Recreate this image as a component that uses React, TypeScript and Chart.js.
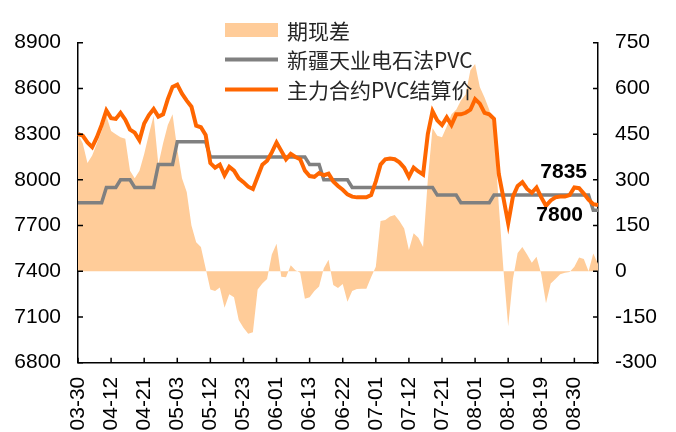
import React, { useEffect, useRef } from 'react';
import { Chart, registerables } from 'chart.js';

Chart.register(...registerables);

const DATES = [
  '03-30','03-31','04-01','04-06','04-07','04-08','04-11','04-12','04-13','04-14',
  '04-15','04-18','04-19','04-20','04-21','04-22','04-25','04-26','04-27','04-28',
  '04-29','05-03','05-04','05-05','05-06','05-09','05-10','05-11','05-12','05-13',
  '05-16','05-17','05-18','05-19','05-20','05-23','05-24','05-25','05-26','05-27',
  '05-30','05-31','06-01','06-02','06-06','06-07','06-08','06-09','06-10','06-13',
  '06-14','06-15','06-16','06-17','06-20','06-21','06-22','06-23','06-24','06-27',
  '06-28','06-29','06-30','07-01','07-04','07-05','07-06','07-07','07-08','07-11',
  '07-12','07-13','07-14','07-15','07-18','07-19','07-20','07-21','07-22','07-25',
  '07-26','07-27','07-28','07-29','08-01','08-02','08-03','08-04','08-05','08-08',
  '08-09','08-10','08-11','08-12','08-15','08-16','08-17','08-18','08-19','08-22',
  '08-23','08-24','08-25','08-26','08-29','08-30','08-31','09-01','09-02','09-05',
  '09-06',
];

// 期现差 (right axis)
const BASIS = [
  450, 420, 355, 380, 420, 460, 510, 460, 450, 440,
  435, 330, 305, 330, 385, 450, 510, 350, 420, 480,
  515, 400, 305, 260, 150, 95, 80, 10, -60, -65,
  -53, -120, -75, -85, -160, -185, -205, -200, -60, -40,
  -25, 55, 90, -18, -20, 20, 3, -5, -90, -85,
  -65, -50, 10, 38, -45, -55, -42, -100, -65, -58,
  -57, -57, -20, 15, 165, 168, 180, 185, 165, 140,
  70, 125, 110, 80, 300, 470, 445, 440, 475, 515,
  530, 560, 580, 660, 680, 605, 570, 530, 470, 220,
  5, -180, -25, 60, 80, 55, 28, 48, -10, -105,
  -40, -25, -10, -5, -2, 15, 45, 40, 0, 58,
  25,
];

// 新疆天业电石法PVC (left axis)
const SPOT = [
  7850, 7850, 7850, 7850, 7850, 7850, 7950, 7950, 7950, 8000,
  8000, 8000, 7950, 7950, 7950, 7950, 7950, 8100, 8100, 8100,
  8100, 8250, 8250, 8250, 8250, 8250, 8250, 8250, 8150, 8150,
  8150, 8150, 8150, 8150, 8150, 8150, 8150, 8150, 8150, 8150,
  8150, 8150, 8150, 8150, 8150, 8150, 8150, 8150, 8150, 8100,
  8100, 8100, 8000, 8000, 8000, 8000, 8000, 8000, 7950, 7950,
  7950, 7950, 7950, 7950, 7950, 7950, 7950, 7950, 7950, 7950,
  7950, 7950, 7950, 7950, 7950, 7950, 7900, 7900, 7900, 7900,
  7900, 7850, 7850, 7850, 7850, 7850, 7850, 7850, 7900, 7900,
  7900, 7900, 7900, 7900, 7900, 7900, 7900, 7900, 7900, 7900,
  7900, 7900, 7900, 7900, 7900, 7900, 7900, 7900, 7900, 7800,
  7800,
];

// 主力合约PVC结算价 (left axis)
const FUTURES = [
  8300, 8290, 8245, 8215, 8280, 8360, 8455, 8405, 8400, 8440,
  8395, 8330, 8310, 8260, 8370, 8425, 8465, 8415, 8430, 8530,
  8610, 8625, 8565, 8520, 8480, 8355, 8345, 8295, 8110, 8080,
  8100, 8030, 8085, 8060, 8010, 7985, 7955, 7940, 8020, 8100,
  8125, 8180, 8245, 8190, 8135, 8170, 8150, 8135, 8060, 8025,
  8020, 8045, 8030, 8040, 7990, 7960, 7935, 7905, 7890, 7885,
  7885, 7885, 7900, 7990, 8100, 8135, 8140, 8135, 8115, 8080,
  8020, 8080, 8055, 8035, 8300, 8450, 8390, 8360, 8410, 8360,
  8430, 8430, 8440, 8460, 8530, 8500, 8440, 8430, 8400, 8040,
  7880, 7715, 7890, 7960, 7985, 7940, 7915, 7950, 7885, 7830,
  7865, 7885, 7890, 7890, 7900, 7950, 7945, 7910, 7870, 7840,
  7835,
];

const SERIES_NAMES = ['期现差', '新疆天业电石法PVC', '主力合约PVC结算价'];

const LEFT_MIN = 6800;
const LEFT_MAX = 8900;
const LEFT_STEP = 300;
const RIGHT_MIN = -300;
const RIGHT_MAX = 750;
const RIGHT_STEP = 150;
const LABEL_EVERY = 7;

const BASIS_COLOR = '#FFCC99';
const SPOT_COLOR = '#808080';
const FUT_COLOR = '#FF6600';
const TICK_FONT = "'Liberation Sans', Arial, sans-serif";
const LEGEND_FONT = "'Noto Sans CJK SC', sans-serif";

const inwardTicks = {
  id: 'inwardTicks',
  afterDraw(chart: any) {
    const { ctx, chartArea } = chart;
    const xs = chart.scales.x;
    const yl = chart.scales.y;
    const yr = chart.scales.y1;
    ctx.save();
    ctx.strokeStyle = '#000';
    ctx.lineWidth = 1.5;
    ctx.beginPath();
    xs.ticks.forEach((_t: any, i: number) => {
      if (i % LABEL_EVERY !== 0) return;
      const px = xs.getPixelForTick(i);
      ctx.moveTo(px, chartArea.bottom);
      ctx.lineTo(px, chartArea.bottom - 5);
    });
    yl.ticks.forEach((_t: any, i: number) => {
      const py = yl.getPixelForTick(i);
      ctx.moveTo(chartArea.left, py);
      ctx.lineTo(chartArea.left + 5, py);
    });
    yr.ticks.forEach((_t: any, i: number) => {
      const py = yr.getPixelForTick(i);
      ctx.moveTo(chartArea.right, py);
      ctx.lineTo(chartArea.right - 5, py);
    });
    ctx.stroke();
    ctx.restore();
  },
};

const legendAndLabels = {
  id: 'legendAndLabels',
  afterDatasetsDraw(chart: any) {
    const ctx = chart.ctx;
    ctx.save();
    // legend
    const sx0 = 225;
    const sx1 = 278;
    const tx = 287;
    const rows = [30, 59.5, 89.5];
    ctx.fillStyle = BASIS_COLOR;
    ctx.fillRect(sx0, rows[0] - 7, sx1 - sx0, 14);
    ctx.lineWidth = 4;
    ctx.strokeStyle = SPOT_COLOR;
    ctx.beginPath();
    ctx.moveTo(sx0, rows[1]);
    ctx.lineTo(sx1, rows[1]);
    ctx.stroke();
    ctx.strokeStyle = FUT_COLOR;
    ctx.beginPath();
    ctx.moveTo(sx0, rows[2]);
    ctx.lineTo(sx1, rows[2]);
    ctx.stroke();
    ctx.fillStyle = '#262626';
    ctx.font = `21px ${LEGEND_FONT}`;
    ctx.textAlign = 'left';
    ctx.textBaseline = 'middle';
    SERIES_NAMES.forEach((n, i) => ctx.fillText(n, tx, rows[i] + 1));

    // end-value labels
    ctx.fillStyle = '#000';
    ctx.font = `bold 21px ${TICK_FONT}`;
    ctx.textAlign = 'right';
    const futMeta = chart.getDatasetMeta(2);
    const fLast = futMeta.data[futMeta.data.length - 1];
    ctx.fillText(String(FUTURES[FUTURES.length - 1]), fLast.x - 11, fLast.y - 33);
    const spotMeta = chart.getDatasetMeta(1);
    const sLast = spotMeta.data[spotMeta.data.length - 1];
    ctx.fillText(String(SPOT[SPOT.length - 1]), sLast.x - 15, sLast.y + 5);
    ctx.restore();
  },
};

export default function App() {
  const canvasRef = useRef<HTMLCanvasElement | null>(null);

  useEffect(() => {
    if (!canvasRef.current) return;
    const chart = new Chart(canvasRef.current, {
      type: 'line',
      data: {
        labels: DATES,
        datasets: [
          {
            label: SERIES_NAMES[0],
            data: BASIS,
            yAxisID: 'y1',
            borderWidth: 0,
            borderColor: BASIS_COLOR,
            backgroundColor: BASIS_COLOR,
            fill: 'origin',
            pointRadius: 0,
            tension: 0,
            order: 3,
          },
          {
            label: SERIES_NAMES[1],
            data: SPOT,
            yAxisID: 'y',
            borderWidth: 3.5,
            borderColor: SPOT_COLOR,
            backgroundColor: SPOT_COLOR,
            fill: false,
            pointRadius: 0,
            tension: 0,
            order: 2,
          },
          {
            label: SERIES_NAMES[2],
            data: FUTURES,
            yAxisID: 'y',
            borderWidth: 4,
            borderColor: FUT_COLOR,
            backgroundColor: FUT_COLOR,
            fill: false,
            pointRadius: 0,
            tension: 0,
            order: 1,
          },
        ],
      },
      options: {
        responsive: false,
        animation: false,
        layout: { padding: { top: 42.7, left: 0, right: 0, bottom: 0 } },
        plugins: {
          legend: { display: false },
          tooltip: { enabled: false },
          title: { display: false },
        },
        scales: {
          x: {
            type: 'category',
            offset: false,
            grid: { display: false, drawTicks: false },
            border: { display: true, color: '#000', width: 1.5 },
            ticks: {
              autoSkip: false,
              maxRotation: 90,
              minRotation: 90,
              padding: 14,
              color: '#000',
              font: { family: TICK_FONT, size: 21 },
              callback: (_v: any, i: number) => (i % LABEL_EVERY === 0 ? DATES[i] : ''),
            },
            afterFit: (s: any) => {
              s.height = 69.3;
            },
          },
          y: {
            position: 'left',
            min: LEFT_MIN,
            max: LEFT_MAX,
            grid: { display: false, drawTicks: false },
            border: { display: true, color: '#000', width: 1.5 },
            ticks: {
              stepSize: LEFT_STEP,
              padding: 17,
              color: '#000',
              font: { family: TICK_FONT, size: 21 },
              callback: (v: any) => String(v),
            },
            afterFit: (s: any) => {
              s.width = 78;
            },
          },
          y1: {
            position: 'right',
            min: RIGHT_MIN,
            max: RIGHT_MAX,
            grid: { display: false, drawTicks: false },
            border: { display: true, color: '#000', width: 1.5 },
            ticks: {
              stepSize: RIGHT_STEP,
              padding: 17,
              color: '#000',
              font: { family: TICK_FONT, size: 21 },
              callback: (v: any) => String(v),
            },
            afterFit: (s: any) => {
              s.width = 78;
            },
          },
        },
      } as any,
      plugins: [inwardTicks, legendAndLabels],
    });
    return () => chart.destroy();
  }, []);

  return (
    <div style={{ position: 'fixed', left: 0, top: 0, width: 676, height: 432, background: '#fff' }}>
      <canvas ref={canvasRef} width={676} height={432} style={{ display: 'block' }} />
    </div>
  );
}
